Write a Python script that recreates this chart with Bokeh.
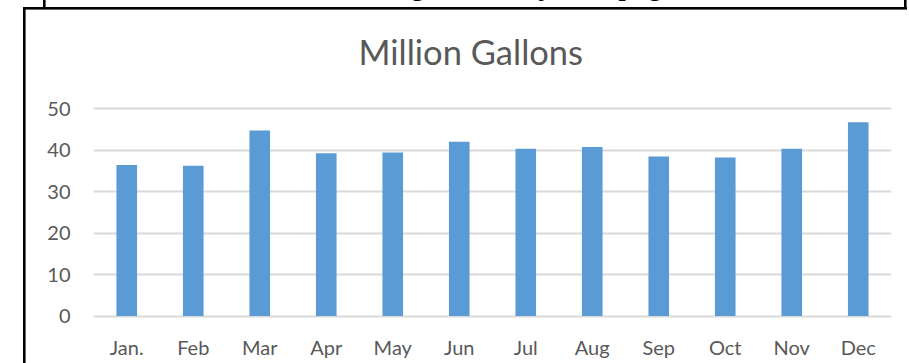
from bokeh.plotting import figure
from bokeh.models import Range1d, FactorRange, ColumnDataSource, FixedTicker, Label
from bokeh.embed import file_html
from bokeh.resources import INLINE

# ---- data ----
months = ["Jan.", "Feb", "Mar", "Apr", "May", "Jun", "Jul", "Aug", "Sep", "Oct", "Nov", "Dec"]
gallons = [36.5, 36.3, 44.8, 39.3, 39.5, 42.1, 40.4, 40.8, 38.5, 38.3, 40.4, 46.8]
y_ticks = [0, 10, 20, 30, 40, 50]
title_text = "Million Gallons"
caption_text = "Average Monthly Pumpage"

FONT = "Lato"
GREY = "#595959"
BLUE = "#5B9BD5"
GRID = "#D9D9D9"

src = ColumnDataSource(dict(m=months, v=gallons))
p = figure(width=909, height=363, x_range=FactorRange(*months, range_padding=0),
           y_range=Range1d(-0.6, 50.6), output_backend="svg", toolbar_location=None,
           min_border_left=93, min_border_right=18, min_border_top=106,
           min_border_bottom=45, title=title_text)
p.outline_line_color = None
p.background_fill_color = "white"
p.border_fill_alpha = 0.0

p.vbar(x="m", top="v", bottom=0, width=0.31, source=src, fill_color=BLUE, line_color=None)

p.title.text_font = FONT
p.title.text_font_size = "34.5px"
p.title.text_font_style = "normal"
p.title.text_color = GREY
p.title.align = "left"
p.title.offset = 265
p.title.standoff = 0

p.yaxis.ticker = FixedTicker(ticks=y_ticks)
p.xgrid.visible = False
p.ygrid.grid_line_color = GRID
p.ygrid.grid_line_width = 2

for ax in (p.xaxis[0], p.yaxis[0]):
    ax.axis_line_color = None
    ax.major_tick_line_color = None
    ax.minor_tick_line_color = None
    ax.major_tick_out = 0
    ax.minor_tick_out = 0
    ax.major_label_text_font = FONT
    ax.major_label_text_font_size = "20px"
    ax.major_label_text_color = GREY

p.yaxis.major_label_standoff = 23
p.xaxis.major_label_standoff = 16

# ---- document box rules around the chart (page decoration, drawn behind the canvas) ----
rules = [  # (left, top, width, height) in page pixels
    (23, 7, 884, 2.6),     # horizontal rule
    (23, 7, 2.6, 356),     # left rule
    (42.5, 0, 2.6, 8),     # previous box, left edge
    (904.3, 0, 2.6, 9),    # previous box, right edge
]
p.styles = {
    "background-color": "white",
    "background-image": ", ".join(["linear-gradient(#000, #000)"] * len(rules)),
    "background-repeat": "no-repeat",
    "background-position": ", ".join(f"{l}px {t}px" for l, t, w, h in rules),
    "background-size": ", ".join(f"{w}px {h}px" for l, t, w, h in rules),
}

# caption of the box above, cut off by the page edge (only descenders visible)
p.add_layout(Label(x=336, y=-17, x_units="canvas", y_units="canvas", text=caption_text,
                   text_font="Liberation Serif", text_font_size="31px",
                   text_color="black", text_baseline="alphabetic", text_align="left"),
             "above")

open("out.html", "w").write(file_html(p, INLINE))
